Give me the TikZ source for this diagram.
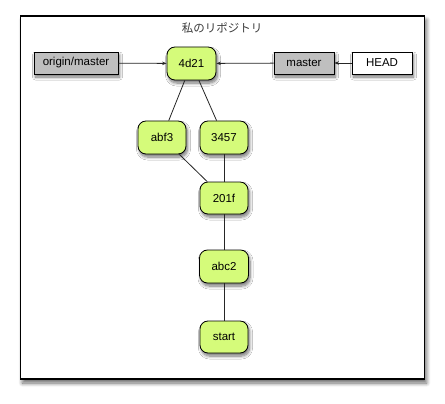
\documentclass[tikz,border=0pt]{standalone}
\usepackage{fontspec}
\setmainfont{Liberation Sans}
\newfontfamily\cjk{Noto Sans CJK JP}
\usetikzlibrary{arrows.meta,shadows.blur}
\definecolor{commitgreen}{RGB}{213,251,122}
\definecolor{refgray}{RGB}{191,191,191}
\definecolor{titlegray}{RGB}{60,60,60}
\tikzset{
  shad/.style={blur shadow={shadow xshift=1.5pt,shadow yshift=-3pt,shadow blur radius=3pt,shadow blur steps=8,shadow opacity=55}},
  commit/.style={draw=black,line width=0.8pt,fill=commitgreen,rounded corners=8pt,minimum width=48pt,minimum height=33pt,inner sep=0pt,font=\fontsize{11.5}{13}\selectfont,shad},
  refbox/.style={draw=black,line width=0.8pt,fill=refgray,minimum height=22pt,inner sep=0pt,font=\fontsize{11.5}{13}\selectfont,shad},
  headbox/.style={refbox,fill=white},
  link/.style={line width=0.8pt,draw=black!85},
  ptr/.style={link,-{Stealth[length=4.5pt,width=3.5pt]}}
}
\begin{document}
\begin{tikzpicture}[x=1pt,y=-1pt]
\useasboundingbox (0,0) rectangle (445,404);
\node[draw=black,line width=1.2pt,fill=white,minimum width=404pt,minimum height=363pt,inner sep=0pt,blur shadow={shadow xshift=2pt,shadow yshift=-4pt,shadow blur radius=4pt,shadow blur steps=8,shadow opacity=60}] (frame) at (222.5,197.5) {};
\node[text=titlegray,font=\cjk\fontsize{11.5}{13}\selectfont] (title) at (222,28) {私のリポジトリ};
\node[refbox,minimum width=84pt] (om) at (76,63) {origin/master};
\node[commit,minimum width=49pt] (c4d21) at (191.5,63.5) {4d21};
\node[refbox,minimum width=60pt] (master) at (304,63) {master};
\node[headbox,minimum width=60pt] (head) at (382,63) {HEAD};
\node[commit] (abf3) at (162,137.5) {abf3};
\node[commit] (c3457) at (224,137.5) {3457};
\node[commit,minimum height=32pt] (c201f) at (224,198) {201f};
\node[commit,minimum width=49pt] (abc2) at (224,266.5) {abc2};
\node[commit,minimum height=32pt] (start) at (224,337) {start};
\draw[ptr] (om) -- (c4d21);
\draw[ptr] (master) -- (c4d21);
\draw[ptr] (head) -- (master);
\draw[link] (c4d21) -- (abf3);
\draw[link] (c4d21) -- (c3457);
\draw[link] (abf3) -- (c201f);
\draw[link] (c3457) -- (c201f);
\draw[link] (c201f) -- (abc2);
\draw[link] (abc2) -- (start);
\end{tikzpicture}
\end{document}
